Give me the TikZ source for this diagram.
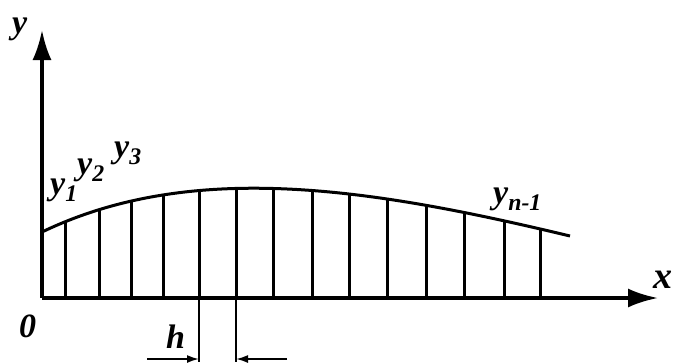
\documentclass[tikz,border=0pt]{standalone}
\usepackage{fontspec}
\setmainfont{Liberation Serif}
\usetikzlibrary{arrows.meta}

\begin{document}
\begin{tikzpicture}[x=1pt,y=-1pt,
axis/.style={line width=3.5pt,-{Latex[length=30pt,width=19pt]}},
ord/.style={line width=3pt},
dim/.style={line width=1.8pt},
dim arrow/.style={dim,-{Latex[length=12pt,width=8pt]}},
lbl/.style={inner sep=0pt,anchor=base west,font=\fontsize{34}{40}\selectfont\bfseries\itshape}]
\useasboundingbox (0,0) rectangle (677,362);
\coordinate (O) at (42,298);
\coordinate (Y) at (42,30);
\coordinate (X) at (658,298);
\coordinate (A) at (42,232);
\coordinate (B) at (570,236);
% ordinates, cut off at the curve
\begin{scope}
\clip (A) .. controls (192,160) and (370,188) .. (B) -- (570,298) -- (O) -- cycle;
\foreach \x in {65,99,131,163,199,236,273,312,349,387,426,464,504,540}
  \draw[ord] (\x,298) -- (\x,150);
\end{scope}
\draw[ord] (A) .. controls (192,160) and (370,188) .. (B);
\draw[axis] (O) -- (Y);
\draw[axis] (O) -- (X);
% step h
\coordinate (h1) at (199,298);
\coordinate (h2) at (236,298);
\coordinate (h1b) at (199,362);
\coordinate (h2b) at (236,362);
\coordinate (hl) at (147,359);
\coordinate (hr) at (287,359);
\draw[dim] (h1) -- (h1b);
\draw[dim] (h2) -- (h2b);
\draw[dim arrow] (hl) -- (199,359);
\draw[dim arrow] (hr) -- (236,359);
\node[lbl] (ly) at (12,33) {y};
\node[lbl,font=\fontsize{38}{44}\selectfont\bfseries\itshape] (lx) at (653,288) {x};
\node[lbl] (l0) at (19,337) {0};
\node[lbl] (lh) at (166,348) {h};
\node[lbl] (ly1) at (50,194) {y\textsubscript{1}};
\node[lbl] (ly2) at (77,174) {y\textsubscript{2}};
\node[lbl] (ly3) at (114,157) {y\textsubscript{3}};
\node[lbl] (lyn) at (493,203) {y\textsubscript{n-1}};
\end{tikzpicture}
\end{document}
